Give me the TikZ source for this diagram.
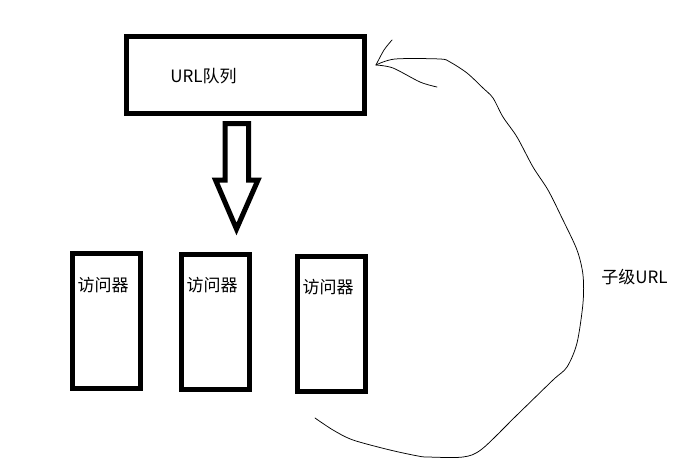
\documentclass[tikz,border=0pt]{standalone}
\usepackage{fontspec}
\newfontfamily\cjk{Noto Sans CJK SC}
\begin{document}
\begin{tikzpicture}[x=1pt,y=-1pt,
  thickbox/.style={draw=black,line width=5pt,fill=white},
  lbl/.style={font=\cjk\fontsize{17}{20}\selectfont,text=black,inner sep=0pt},
  hand/.style={draw=black,line width=0.75pt,line join=round,line cap=round}]
\useasboundingbox (0,0) rectangle (686,467);
% queue box
\draw[thickbox] (126.5,36.5) rectangle (364.5,113.5);
\node[lbl] (queue) at (203.5,76) {URL队列};
% block arrow
\draw[line width=5pt,line join=miter] (225,123.5) -- (248.5,123.5) -- (248.5,180) -- (258,180) -- (236.5,229) -- (215.5,180) -- (225,180) -- cycle;
% visitor boxes
\draw[thickbox] (72.5,253.5) rectangle (140.5,388.5);
\draw[thickbox] (181.5,254.5) rectangle (249.5,389.5);
\draw[thickbox] (297.5,256.5) rectangle (365.5,391.5);
\node[lbl] (v1) at (103,285) {访问器};
\node[lbl] (v2) at (212,285) {访问器};
\node[lbl] (v3) at (328,287) {访问器};
% child URL label
\node[lbl] (child) at (634.5,277) {子级URL};
% freehand loop
\draw[hand] plot[smooth,tension=0.5] coordinates {(315,418) (333,430) (353,440) (390,450) (418,456) (428,457) (463,457) (482,449) (517,415) (553,380) (567,367) (577,343) (583,303) (583,275) (577,250) (562,218) (548,190) (533,167) (517,137) (503,117) (493,98) (483,88) (467,73) (450,62) (440,59) (395,59) (376,65)};
\draw[hand] plot[smooth,tension=0.5] coordinates {(392,40) (384,50) (376,65)};
\draw[hand] plot[smooth,tension=0.5] coordinates {(376,65) (393,68) (420,82) (437,87)};
\end{tikzpicture}
\end{document}
